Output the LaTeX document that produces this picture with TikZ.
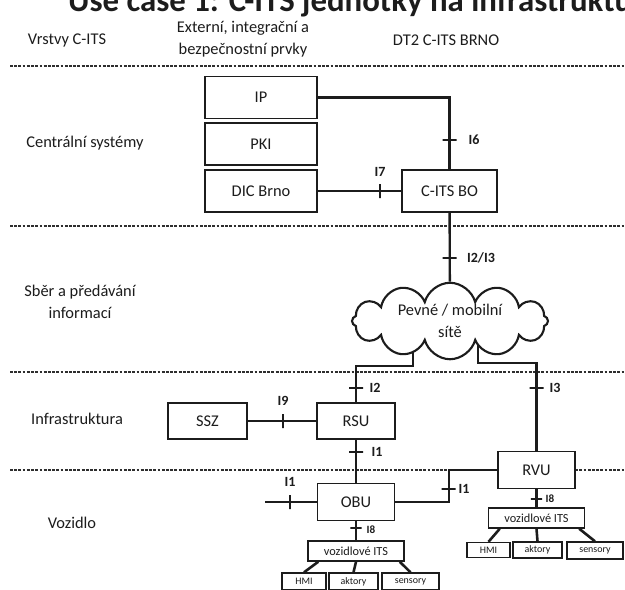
\documentclass[tikz,border=0pt]{standalone}
\usepackage{fontspec}
\setmainfont{Carlito}
\usepackage{tikz}
\usetikzlibrary{positioning,calc,backgrounds,shapes.symbols}
\definecolor{ink}{HTML}{1C1C1C}
\definecolor{rule}{HTML}{2E2E2E}
\tikzset{
  unitbox/.style={draw=ink, line width=1.4pt, fill=white, inner sep=0pt, font=\fontsize{14}{16}\selectfont, text=ink},
  itsbox/.style={draw=ink, line width=1.3pt, fill=white, inner sep=0pt, font=\fontsize{10.5}{12}\selectfont, text=ink},
  partbox/.style={draw=ink, line width=1.2pt, fill=white, inner sep=0pt, font=\fontsize{8.5}{10}\selectfont, text=ink},
  layertext/.style={align=center, font=\fontsize{14}{19}\selectfont, text=ink},
  iftext/.style={font=\fontsize{12}{14}\selectfont\bfseries, text=ink},
  ifsmall/.style={font=\fontsize{9.5}{11}\selectfont\bfseries, text=ink},
  link/.style={draw=ink, line width=2pt},
  branch/.style={draw=ink, line width=2.2pt},
  hbar/.style={draw=ink, line width=1.6pt, minimum width=4.2mm, minimum height=0pt, inner sep=0pt},
  vbar/.style={draw=ink, line width=1.6pt, minimum height=4.2mm, minimum width=0pt, inner sep=0pt},
  sepline/.style={draw=rule, line width=1.1pt, dash pattern=on 2.4pt off 1.2pt}
}

\begin{document}
\begin{tikzpicture}[x=0.3mm, y=-0.3mm]
  \useasboundingbox (0,0) rectangle (625,589);
  \begin{scope}[on background layer]
    \fill[white] (0,0) rectangle (625,589);
    \draw[sepline] (10,66) -- (625,66);
    \draw[sepline] (10,226) -- (625,226);
    \draw[sepline] (10,372) -- (625,372);
    \draw[sepline] (10,470) -- (625,470);
  \end{scope}

  % title (cut off at the top)
  \node[font=\fontsize{28}{30}\selectfont\bfseries, anchor=base west, text=ink] (title) at (64,11) {Use case 1: C-ITS jednotky na infrastruktuře};

  % headings
  \node[layertext] (hlayer) at (67,40) {Vrstvy C-ITS};
  \node[layertext] (hext) at (243,39) {Externí, integrační a\\bezpečnostní prvky};
  \node[layertext] (hdt) at (446,40) {DT2 C-ITS BRNO};

  % layers
  \node[layertext] (lcent) at (85,143) {Centrální systémy};
  \node[layertext] (lsber) at (80,302) {Sběr a předávání\\informací};
  \node[layertext] (linfra) at (77,419) {Infrastruktura};
  \node[layertext] (lveh) at (72,523) {Vozidlo};

  % central systems
  \node[unitbox, minimum width=33.6mm, minimum height=12.6mm] (ip) at (261,97.5) {IP};
  \node[unitbox, minimum width=33.6mm, minimum height=12.6mm] (pki) at (261,144) {PKI};
  \node[unitbox, minimum width=33.6mm, minimum height=12.6mm] (dic) at (261,191) {DIC Brno};
  \node[unitbox, minimum width=28.5mm, minimum height=12.6mm] (cits) at (449.5,191) {C-ITS BO};

  % networks
  \coordinate (netL) at (413,335);
  \coordinate (netR) at (478,335);
  \node[cloud, cloud puffs=12, aspect=3.2, draw=ink, line width=1.8pt, fill=white, minimum width=58.8mm, minimum height=18.6mm, inner sep=0pt, layertext] (net) at (450,321) {Pevné / mobilní\\sítě};

  % infrastructure
  \node[unitbox, minimum width=23.7mm, minimum height=10.8mm] (ssz) at (207.5,421) {SSZ};
  \node[unitbox, minimum width=23.4mm, minimum height=10.8mm] (rsu) at (356,421) {RSU};

  % vehicle
  \node[unitbox, minimum width=23.1mm, minimum height=11.1mm] (obu) at (356,502) {OBU};
  \node[unitbox, minimum width=23.1mm, minimum height=11.1mm] (rvu) at (536.5,470) {RVU};
  \coordinate (obuIn) at (265,502);

  \node[itsbox, minimum width=28.8mm, minimum height=6mm] (vits1) at (356,551) {vozidlové ITS};
  \node[partbox, minimum width=13.2mm, minimum height=5.1mm] (hmi1) at (304,581.5) {HMI};
  \node[partbox, minimum width=14.7mm, minimum height=5.1mm] (akt1) at (353.5,581.5) {aktory};
  \node[partbox, minimum width=17.1mm, minimum height=5.1mm] (sen1) at (410.5,581.5) {sensory};

  \node[itsbox, minimum width=28.8mm, minimum height=6mm] (vits2) at (536.5,518) {vozidlové ITS};
  \node[partbox, minimum width=12.9mm, minimum height=4.5mm] (hmi2) at (488.5,550) {HMI};
  \node[partbox, minimum width=14.7mm, minimum height=4.8mm] (akt2) at (537.5,550) {aktory};
  \node[partbox, minimum width=16.8mm, minimum height=5.1mm] (sen2) at (595,550.5) {sensory};

  % links
  \draw[link] (ip.east) -| (cits.north);
  \draw[link] (dic) -- (cits);
  \draw[link] (cits) -- (net);
  \begin{scope}[on background layer]
    \draw[link] (netL) -- ++(0,31) -| (rsu.north);
    \draw[link] (netR) -- ++(0,28) -| (rvu.north);
  \end{scope}
  \draw[link] (ssz) -- (rsu);
  \draw[link] (rsu) -- (obu);
  \draw[link] (obuIn) -- (obu.west);
  \draw[link] (obu.east) -- ++(54,0) |- (rvu.west);
  \draw[link] (obu) -- (vits1);
  \draw[link] (rvu) -- (vits2);
  \draw[branch] ($(vits1.south west)+(11,0)$) -- (hmi1.north);
  \draw[branch] (vits1.south) -- (akt1.north);
  \draw[branch] ($(vits1.south east)+(-5,0)$) -- (sen1.north);
  \draw[branch] ($(vits2.south west)+(12,0)$) -- (hmi2.north);
  \draw[branch] (vits2.south) -- (akt2.north);
  \draw[branch] ($(vits2.south east)+(-6,0)$) -- (sen2.north);

  % interfaces
  \node[hbar] (b6) at (449.5,140) {};
  \node[iftext] (i6) at (474,140) {I6};
  \node[vbar] (b7) at (380,191) {};
  \node[iftext] (i7) at (380,172) {I7};
  \node[hbar] (b23) at (449.5,258) {};
  \node[iftext] (i23) at (481,258) {I2/I3};
  \node[hbar] (b2) at (356,388) {};
  \node[iftext] (i2) at (375,388) {I2};
  \node[hbar] (b3) at (536.5,388) {};
  \node[iftext] (i3) at (555,388) {I3};
  \node[vbar] (b9) at (283,421) {};
  \node[iftext] (i9) at (283,401) {I9};
  \node[hbar] (b1a) at (356,452) {};
  \node[iftext] (i1a) at (377,452) {I1};
  \node[vbar] (b1b) at (290,502) {};
  \node[iftext] (i1b) at (290,482) {I1};
  \node[hbar] (b1c) at (448.5,489) {};
  \node[iftext] (i1c) at (464,489) {I1};
  \node[hbar, minimum width=3.4mm] (b8a) at (356,528) {};
  \node[ifsmall] (i8a) at (371,530) {I8};
  \node[hbar, minimum width=3.4mm] (b8b) at (536.5,499) {};
  \node[ifsmall] (i8b) at (550,499) {I8};
\end{tikzpicture}
\end{document}
